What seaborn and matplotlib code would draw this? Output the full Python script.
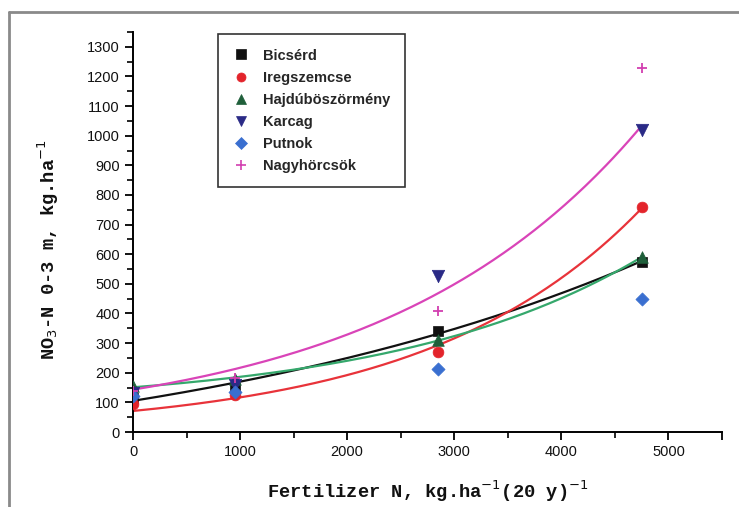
import numpy as np
import pandas as pd
import matplotlib
matplotlib.use("Agg")
import matplotlib.pyplot as plt
from matplotlib.lines import Line2D
from matplotlib.ticker import MultipleLocator
import seaborn as sns

# ---- data ----
fert_n = [0, 950, 2850, 4750]
bicserd = [115, 150, 340, 575]
iregszemcse = [95, 125, 270, 760]
hajduboszormeny = [155, 178, 311, 590]
karcag = [130, 158, 527, 1020]
putnok = [120, 135, 213, 450]
nagyhorcsok = [140, 182, 409, 1230]

site_names = ["Bicsérd", "Iregszemcse", "Hajdúböszörmény", "Karcag", "Putnok", "Nagyhörcsök"]
site_values = [bicserd, iregszemcse, hajduboszormeny, karcag, putnok, nagyhorcsok]

# style
marker_style = {
    "Bicsérd": ("s", "#111111", 50),
    "Iregszemcse": ("o", "#e3242b", 60),
    "Hajdúböszörmény": ("^", "#1f5f3a", 70),
    "Karcag": ("v", "#2a2a86", 80),
    "Putnok": ("D", "#3a6fd0", 45),
    "Nagyhörcsök": ("+", "#d23fb0", 60),
}
# fitted exponential curves: (site, curve colour, with offset term?)
fit_curves = [("Bicsérd", "#111111", True), ("Iregszemcse", "#e8333a", False),
              ("Hajdúböszörmény", "#35a86c", True), ("Karcag", "#d944b8", False)]

sns.set_theme(style="white")
plt.rcParams["font.family"] = ["Liberation Sans", "DejaVu Sans"]

df = pd.DataFrame({
    "site": np.repeat(site_names, len(fert_n)),
    "x": np.tile(fert_n, len(site_names)),
    "y": np.concatenate(site_values),
})

fig = plt.figure(figsize=(7.39, 5.07), dpi=100)
ax = fig.add_axes([133 / 739, 1 - 432 / 507, (722 - 133) / 739, (432 - 32) / 507])


def fit_exp(x, y, offset):
    """least-squares fit of y = y0 + a * exp(b * x)  (y0 = 0 when offset is False)"""
    x = np.asarray(x, float)
    y = np.asarray(y, float)
    best = None
    for b in np.linspace(1e-5, 2e-3, 4000):
        e = np.exp(b * x)
        X = np.column_stack([np.ones_like(x), e]) if offset else e[:, None]
        coef, *_ = np.linalg.lstsq(X, y, rcond=None)
        sse = np.sum((X @ coef - y) ** 2)
        if best is None or sse < best[0]:
            best = (sse, coef, b)
    _, coef, b = best
    y0, a = (coef[0], coef[1]) if offset else (0.0, coef[0])
    return lambda t: y0 + a * np.exp(b * t)


xs = np.linspace(0, max(fert_n), 200)
for name, col, off in fit_curves:
    f = fit_exp(fert_n, site_values[site_names.index(name)], off)
    sns.lineplot(x=xs, y=f(xs), ax=ax, color=col, lw=1.6, zorder=2)

handles = []
for name in site_names:
    m, c, s = marker_style[name]
    sub = df[df.site == name]
    kw = dict(linewidths=1.3) if m == "+" else dict(edgecolor=c, linewidth=0.5)
    sns.scatterplot(data=sub, x="x", y="y", ax=ax, marker=m, color=c, s=s,
                    zorder=3, **kw)
    handles.append(Line2D([], [], ls="", marker=m, color=c, markeredgecolor=c,
                          markersize=6.5 if m != "+" else 7, mew=1.2 if m == "+" else 0.5,
                          label=name))

ax.set_xlim(0, 5500)
ax.set_ylim(0, 1350)
ax.xaxis.set_major_locator(MultipleLocator(1000))
ax.xaxis.set_minor_locator(MultipleLocator(500))
ax.yaxis.set_major_locator(MultipleLocator(100))
ax.yaxis.set_minor_locator(MultipleLocator(50))
ax.set_xticks([0, 1000, 2000, 3000, 4000, 5000, 5500])
ax.set_xticklabels(["0", "1000", "2000", "3000", "4000", "5000", ""])
ax.set_yticks(range(0, 1400, 100))
ax.tick_params(axis="both", which="major", direction="out", length=6, width=1.3,
               color="black", labelsize=10.5, labelcolor="#111111", bottom=True, left=True)
ax.tick_params(axis="both", which="minor", direction="out", length=4, width=1.2,
               color="black", bottom=True, left=True)
for side in ["top", "right"]:
    ax.spines[side].set_visible(False)
for side in ["left", "bottom"]:
    ax.spines[side].set_color("black")
    ax.spines[side].set_linewidth(1.4)

label_font = dict(family=["Liberation Mono", "DejaVu Sans Mono"], fontweight="bold",
                  fontsize=13.5, color="#111111")
ax.set_xlabel(r"Fertilizer N, kg.ha$^{-1}$(20 y)$^{-1}$", labelpad=14, **label_font)
ax.set_ylabel(r"NO$_3$-N 0-3 m, kg.ha$^{-1}$", **label_font)
ax.yaxis.set_label_coords(-0.122, 0.455)

leg = ax.legend(handles=handles, loc="upper left", bbox_to_anchor=(0.144, 0.995),
                borderaxespad=0, frameon=True, fancybox=False, edgecolor="black",
                prop=dict(family="Liberation Sans", weight="bold", size=10.5),
                labelspacing=0.55, handletextpad=0.9, borderpad=1.0,
                handlelength=1.2)
leg.get_frame().set_linewidth(1.2)

# outer grey frame of the original figure
fig.add_artist(Line2D([9 / 739, 9 / 739], [0, 1 - 12 / 507], transform=fig.transFigure,
                      color="#8a8a8a", lw=2))
fig.add_artist(Line2D([9 / 739, 1], [1 - 12 / 507, 1 - 12 / 507], transform=fig.transFigure,
                      color="#8a8a8a", lw=2))

fig.savefig("out.png", dpi=100)
